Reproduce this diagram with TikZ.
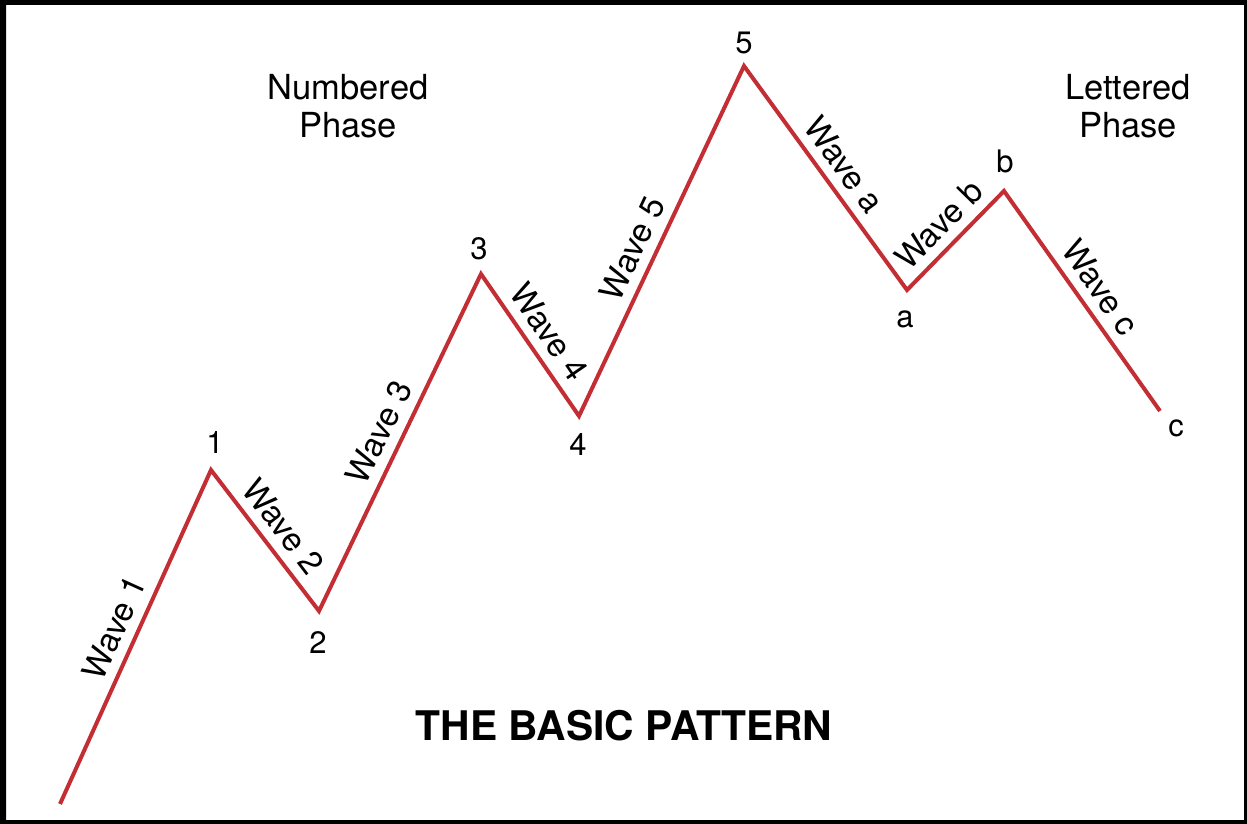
\documentclass[tikz,border=0pt]{standalone}
\usepackage{fontspec}
\setmainfont{TeX Gyre Heros}
\definecolor{wavered}{RGB}{194,46,52}
\begin{document}
\begin{tikzpicture}[x=1pt,y=-1pt,
  wave/.style={draw=wavered, line width=4pt, line join=miter},
  wl/.style={midway, sloped, above=9pt, inner sep=0pt, font=\fontsize{33}{36}\selectfont},
  pt/.style={inner sep=0pt, font=\fontsize{31}{36}\selectfont},
  phase/.style={inner sep=0pt, align=center, font=\fontsize{34.5}{38}\selectfont},
  title/.style={inner sep=0pt, font=\fontsize{40.8}{44}\selectfont\bfseries}]
\useasboundingbox (0,0) rectangle (1247,824);
\fill[white] (0,0) rectangle (1247,824);
\fill[black, even odd rule] (0,0) rectangle (1247,824) (6,5) rectangle (1244,820);
% vertices
\coordinate (p0) at (60,804);
\coordinate (p1) at (211,470);
\coordinate (p2) at (319,611);
\coordinate (p3) at (481,274);
\coordinate (p4) at (579,416);
\coordinate (p5) at (744,66);
\coordinate (p6) at (907,290);
\coordinate (p7) at (1004,191);
\coordinate (p8) at (1160,411);
\draw[wave] (p0) -- node (w1) [wl] {Wave 1}
  (p1) -- node (w2) [wl] {Wave 2}
  (p2) -- node (w3) [wl] {Wave 3}
  (p3) -- node (w4) [wl] {Wave 4}
  (p4) -- node (w5) [wl, pos=0.45] {Wave 5}
  (p5) -- node (wa) [wl] {Wave a}
  (p6) -- node (wb) [wl] {Wave b}
  (p7) -- node (wc) [wl] {Wave c}
  (p8);
% point labels
\node[pt] (l1) at (215,443) {1};
\node[pt] (l2) at (318,643) {2};
\node[pt] (l3) at (479,249) {3};
\node[pt] (l4) at (578,445) {4};
\node[pt] (l5) at (744,43) {5};
\node[pt] (la) at (905,319) {a};
\node[pt] (lb) at (1005,161) {b};
\node[pt] (lc) at (1176,428) {c};
% phase labels
\node[phase] (np) at (348,106) {Numbered\\Phase};
\node[phase] (lp) at (1128,106) {Lettered\\Phase};
\node[title] (tt) at (624,726) {THE BASIC PATTERN};
\end{tikzpicture}
\end{document}
